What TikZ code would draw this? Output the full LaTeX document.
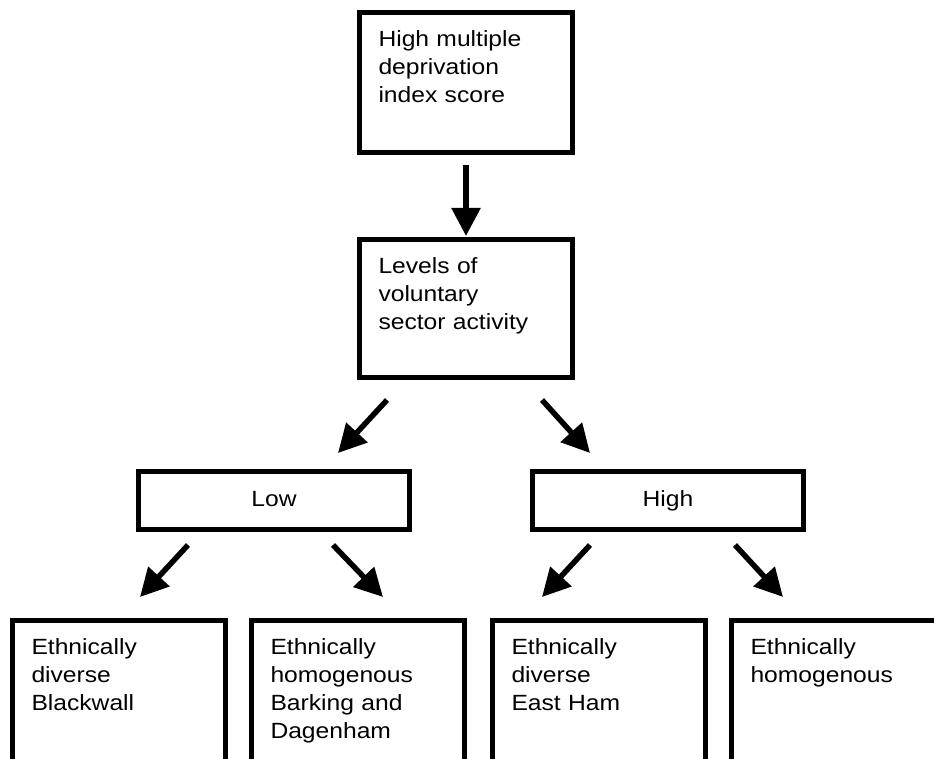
\documentclass[tikz,border=0pt]{standalone}
\usepackage{fontspec}
\setmainfont[FakeStretch=1.12]{Liberation Sans}
\usetikzlibrary{arrows.meta}

\begin{document}
\begin{tikzpicture}[x=1pt, y=-1pt,
    box/.style={draw, line width=5pt, anchor=north west, text width=175pt, align=left,
        inner xsep=19pt, inner ysep=18pt, text height=16pt},
    level/.style={draw, line width=5pt, minimum width=271pt, minimum height=58pt,
        inner sep=0pt, text height=16pt, text depth=4.6pt},
    arr/.style={line width=5.5pt, -{Triangle[length=28pt, width=28pt]}}]
    \useasboundingbox (0, 0) rectangle (934, 759);
    \clip (0, 0) rectangle (934, 759);
    \fontsize{22pt}{28pt}\selectfont

    % top of the tree
    \node[box, text depth=88pt] (mdi) at (357, 10) {High multiple\\deprivation\\index score};
    \node[box, text depth=86pt] (vsa) at (357, 237) {Levels of\\voluntary\\sector activity};
    \draw[arr, shorten <=10pt, shorten >=1pt] (mdi.south) -- (vsa.north);

    % low / high split
    \node[level] (low) at (274, 500.5) {Low};
    \node[level] (high) at (668, 500.5) {High};

    \coordinate (ls) at (387, 400);
    \coordinate (le) at (338, 453);
    \coordinate (hs) at (542, 400);
    \coordinate (he) at (590, 453);
    \draw[arr] (ls) -- (le);
    \draw[arr] (hs) -- (he);

    % bottom row, cut off by the page
    \node[box, text depth=170pt] (bw) at (10, 618) {Ethnically\\diverse\\Blackwall};
    \node[box, text depth=170pt] (bd) at (249, 618) {Ethnically\\homogenous\\Barking and\\Dagenham};
    \node[box, text depth=170pt] (eh) at (490, 618) {Ethnically\\diverse\\East Ham};
    \node[box, text depth=170pt] (hom) at (729, 618) {Ethnically\\homogenous};

    \foreach \s/\e in {188/140, 333/383, 590/542, 735/783} {
        \coordinate (s\s) at (\s, 545);
        \coordinate (e\s) at (\e, 597);
        \draw[arr] (s\s) -- (e\s);
    }
\end{tikzpicture}
\end{document}
